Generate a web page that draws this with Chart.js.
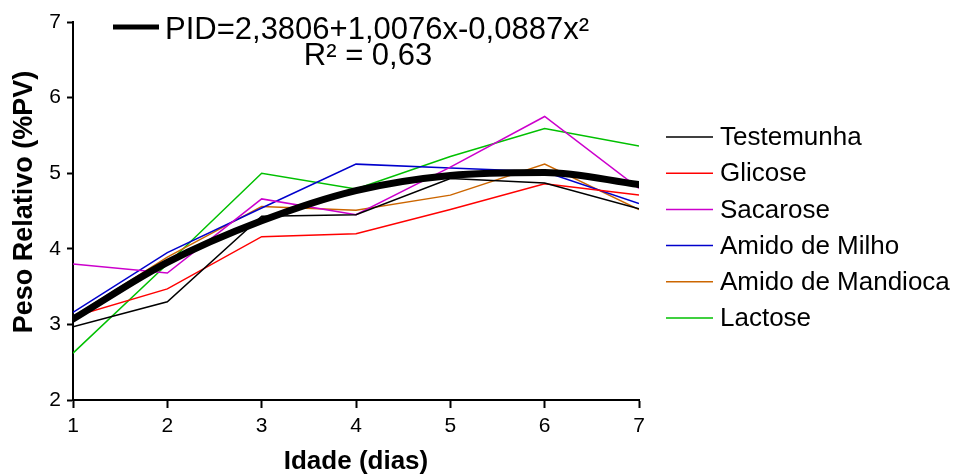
<!DOCTYPE html>
<html lang="pt-BR">
<head>
  <meta charset="UTF-8">
  <title>Peso Relativo</title>
  <script src="https://cdn.jsdelivr.net/npm/chart.js"></script>
  <style>
    body { margin: 0; background: #fff; }
    #wrap { width: 953px; height: 476px; }
  </style>
</head>
<body>
  <div id="wrap"><canvas id="grafico" width="953" height="476"></canvas></div>

  <script>
    // dados
    const dias = [1, 2, 3, 4, 5, 6, 7];
    const testemunha = [2.97, 3.30, 4.43, 4.45, 4.93, 4.87, 4.53];
    const glicose = [3.10, 3.47, 4.16, 4.20, 4.52, 4.86, 4.71];
    const sacarose = [3.80, 3.68, 4.66, 4.45, 5.08, 5.75, 4.80];
    const amidoMilho = [3.16, 3.95, 4.54, 5.12, 5.07, 5.02, 4.60];
    const amidoMandioca = [3.10, 3.89, 4.56, 4.51, 4.71, 5.12, 4.52];
    const lactose = [2.62, 3.80, 5.00, 4.79, 5.22, 5.59, 5.36];
    const ajuste = [3.07, 3.82, 4.37, 4.77, 4.97, 5.01, 4.85];
    const nomes = ['Testemunha', 'Glicose', 'Sacarose', 'Amido de Milho', 'Amido de Mandioca', 'Lactose'];
    const eixoY = [2, 7];
    const eixoX = [1, 7];
    const equacao = 'PID=2,3806+1,0076x-0,0887x²';
    const r2 = 'R² = 0,63';
    const tituloY = 'Peso Relativo (%PV)';

    const cores = ['#000000', '#ff0000', '#cc00cc', '#0000cc', '#cc6600', '#00c000'];
    const fonte = "'Liberation Sans', Arial, sans-serif";

    const pontos = arr => arr.map((v, i) => ({ x: dias[i], y: v }));
    const series = [testemunha, glicose, sacarose, amidoMilho, amidoMandioca, lactose];

    const datasets = [{
      label: 'Ajuste',
      data: pontos(ajuste),
      borderColor: '#000',
      borderWidth: 7,
      borderCapStyle: 'round',
      pointRadius: 0,
      cubicInterpolationMode: 'monotone'
    }];
    series.forEach((s, i) => {
      datasets.push({
        label: nomes[i],
        data: pontos(s),
        borderColor: cores[i],
        borderWidth: 1.5,
        pointRadius: 0,
        tension: 0
      });
    });

    // legenda da direita, equação no topo e título do eixo y
    const legenda = {
      id: 'legenda',
      afterDraw(chart) {
        const ctx = chart.ctx;
        const area = chart.chartArea;
        ctx.save();
        ctx.fillStyle = '#000';
        ctx.strokeStyle = '#000';
        ctx.lineWidth = 5;
        ctx.beginPath();
        ctx.moveTo(area.left + 40, 27);
        ctx.lineTo(area.left + 86, 27);
        ctx.stroke();
        ctx.font = '31px ' + fonte;
        ctx.textBaseline = 'alphabetic';
        ctx.textAlign = 'left';
        ctx.fillText(equacao, area.left + 92, 39);
        ctx.textAlign = 'center';
        ctx.fillText(r2, area.left + 295, 65);

        ctx.font = '26px ' + fonte;
        ctx.textAlign = 'left';
        ctx.textBaseline = 'middle';
        ctx.lineWidth = 1.5;
        chart.data.datasets.slice(1).forEach((ds, i) => {
          const y = 137 + i * 36.2;
          ctx.strokeStyle = ds.borderColor;
          ctx.beginPath();
          ctx.moveTo(area.right + 27, y);
          ctx.lineTo(area.right + 74, y);
          ctx.stroke();
          ctx.fillText(ds.label, area.right + 81, y + 1);
        });

        ctx.translate(25, 202);
        ctx.rotate(-Math.PI / 2);
        ctx.font = 'bold 27px ' + fonte;
        ctx.textAlign = 'center';
        ctx.fillText(tituloY, 0, 0);
        ctx.restore();
      }
    };

    new Chart(document.getElementById('grafico'), {
      type: 'line',
      data: { datasets: datasets },
      plugins: [legenda],
      options: {
        responsive: false,
        animation: false,
        layout: { padding: { top: 22, right: 314, left: 0, bottom: 0 } },
        plugins: {
          legend: { display: false },
          tooltip: { enabled: false }
        },
        scales: {
          x: {
            type: 'linear',
            min: eixoX[0],
            max: eixoX[1],
            afterFit: s => { s.height = 76; },
            border: { display: true, color: '#000', width: 2 },
            grid: { display: true, drawOnChartArea: false, drawTicks: true, tickLength: 8, tickColor: '#000', tickWidth: 2 },
            ticks: { stepSize: 1, color: '#000', padding: 6, font: { family: fonte, size: 21 } },
            title: {
              display: true,
              text: 'Idade (dias)',
              color: '#000',
              font: { family: fonte, size: 26, weight: 'bold', lineHeight: 1 },
              padding: { top: 0, bottom: 1 }
            }
          },
          y: {
            min: eixoY[0],
            max: eixoY[1],
            afterFit: s => { s.width = 73; },
            border: { display: true, color: '#000', width: 2 },
            grid: { display: true, drawOnChartArea: false, drawTicks: true, tickLength: 6, tickColor: '#000', tickWidth: 2 },
            ticks: { stepSize: 1, color: '#000', padding: 6, font: { family: fonte, size: 21 } }
          }
        }
      }
    });
  </script>
</body>
</html>
